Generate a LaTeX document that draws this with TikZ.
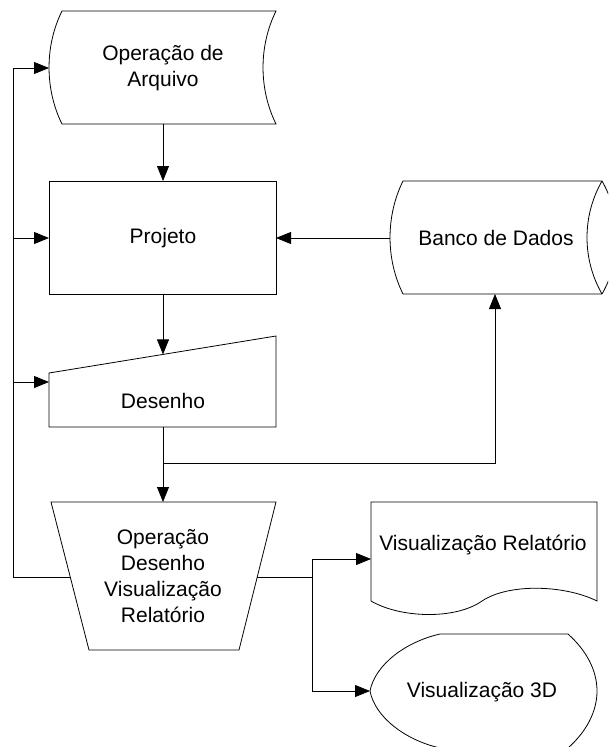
\documentclass[tikz,border=0pt]{standalone}
\usepackage{fontspec}
\setmainfont{Liberation Sans}
\usetikzlibrary{arrows.meta}
\begin{document}
\begin{tikzpicture}[x=1pt,y=-1pt,
  shapeline/.style={draw=black,line width=0.8pt,line join=miter},
  flow/.style={draw=black,line width=0.8pt},
  arrowed/.style={flow,-{Triangle[length=15pt,width=12pt]}},
  labeltext/.style={font=\fontsize{21}{26}\selectfont,align=center,inner sep=0pt}]
\useasboundingbox (0,0) rectangle (608,747);
\clip (0,0) rectangle (608,747);

% ---- shapes ----
% stored data: Operação de Arquivo
\draw[shapeline] (62,11) -- (276,11)
  .. controls (258.7,46) and (258.7,89) .. (276,124) -- (62,124)
  .. controls (44.7,89) and (44.7,46) .. cycle;
% process: Projeto
\draw[shapeline] (49,181) rectangle (276,294);
% direct access storage: Banco de Dados
\draw[shapeline] (602,181) -- (403,181)
  .. controls (385.7,216) and (385.7,259) .. (403,294) -- (602,294);
\draw[shapeline] (602,181) .. controls (582,216) and (582,259) .. (602,294);
\draw[shapeline] (602,181) .. controls (622,216) and (622,259) .. (602,294);
% manual input: Desenho
\draw[shapeline] (49,373) -- (276,336) -- (276,427) -- (49,427) -- cycle;
% manual operation
\draw[shapeline] (51,502) -- (276,502) -- (239,650) -- (89,650) -- cycle;
% document: Visualização Relatório
\draw[shapeline] (371,502) -- (597,502) -- (597,601)
  .. controls (565,585) and (509,583) .. (482,601)
  .. controls (455,620) and (400,618) .. (371,601) -- cycle;
% display: Visualização 3D
\draw[shapeline] (440,634) -- (568,634)
  .. controls (586,650) and (597,670) .. (597,691)
  .. controls (597,712) and (586,732) .. (568,748) -- (440,748)
  .. controls (405,740) and (375,717) .. (370,691)
  .. controls (375,665) and (405,642) .. cycle;

% ---- labels ----
\node[labeltext] (arq)   at (163,68)  {Operação de\\Arquivo};
\node[labeltext] (proj)  at (163,238) {Projeto};
\node[labeltext] (banco) at (496,238) {Banco de Dados};
\node[labeltext] (des)   at (163,401) {Desenho};
\node[labeltext] (oper)  at (163,576) {Operação\\Desenho\\Visualização\\Relatório};
\node[labeltext] (rel)   at (483,545) {Visualização Relatório};
\node[labeltext] (v3d)   at (482,692) {Visualização 3D};

% ---- ports ----
\coordinate (arq-w)   at (49,68);
\coordinate (arq-s)   at (163,124);
\coordinate (proj-n)  at (163,181);
\coordinate (proj-w)  at (49,238);
\coordinate (proj-e)  at (276,238);
\coordinate (proj-s)  at (163,294);
\coordinate (banco-w) at (390,238);
\coordinate (banco-s) at (495,294);
\coordinate (des-n)   at (163,354.4);
\coordinate (des-w)   at (49,382);
\coordinate (des-s)   at (163,427);
\coordinate (split)   at (163,463);
\coordinate (oper-n)  at (163,502);
\coordinate (oper-w)  at (70.3,577);
\coordinate (oper-e)  at (257,577);
\coordinate (ret)     at (13,577);
\coordinate (ret-top) at (13,68);
\coordinate (fork)    at (312,577);
\coordinate (rel-w)   at (371,559);
\coordinate (v3d-w)   at (370,691);

% ---- connectors ----
\draw[arrowed] (arq-s) -- (proj-n);
\draw[arrowed] (banco-w) -- (proj-e);
\draw[arrowed] (proj-s) -- (des-n);
\draw[flow] (des-s) -- (split);
\draw[arrowed] (split) -- (oper-n);
\draw[arrowed] (split) -| (banco-s);
\draw[flow] (oper-w) -- (ret) -- (ret-top);
\draw[arrowed] (ret-top) -- (arq-w);
\draw[arrowed] (ret |- proj-w) -- (proj-w);
\draw[arrowed] (ret |- des-w) -- (des-w);
\draw[flow] (oper-e) -- (fork);
\draw[arrowed] (fork) |- (rel-w);
\draw[arrowed] (fork) |- (v3d-w);
\end{tikzpicture}
\end{document}
